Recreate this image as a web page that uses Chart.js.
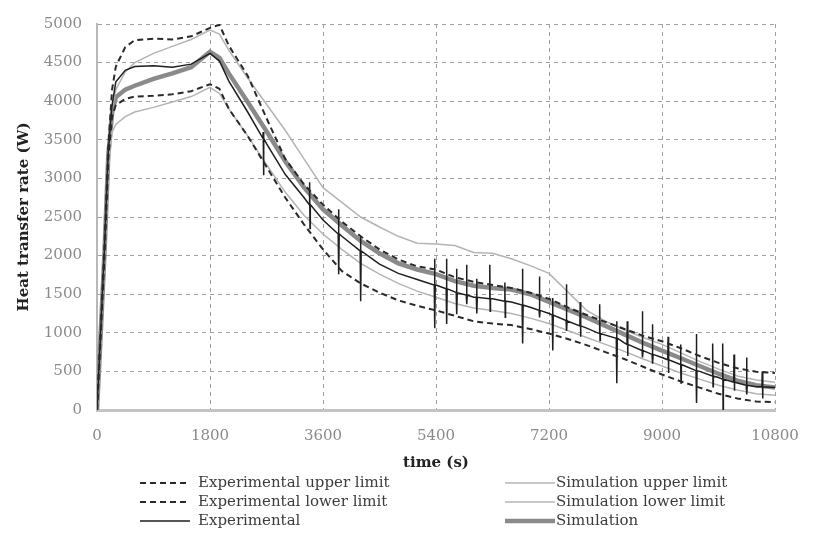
<!DOCTYPE html>
<html>
<head>
<meta charset="utf-8">
<script src="https://cdn.jsdelivr.net/npm/chart.js@4/dist/chart.umd.min.js"></script>
<style>
  html, body { margin: 0; padding: 0; background: #fff; }
</style>
</head>
<body>
<canvas id="heatChart" width="830" height="535"></canvas>
<script>
// time axis (s) shared by all curves
const timeS = [0, 60, 120, 180, 240, 300, 450, 600, 900, 1200, 1500, 1800, 1950,
  2100, 2400, 2700, 3000, 3300, 3600, 3900, 4200, 4500, 4800, 5100, 5400, 5700,
  6000, 6300, 6600, 6900, 7200, 7500, 7800, 8100, 8400, 8700, 9000, 9300, 9600,
  9900, 10200, 10500, 10800];

// heat transfer rate (W)
const expUpper = [0, 1050, 2150, 3400, 4150, 4450, 4700, 4790, 4810, 4800, 4840, 4950, 4990,
  4720, 4330, 3780, 3250, 2920, 2660, 2440, 2250, 2080, 1950, 1860, 1820, 1720,
  1660, 1620, 1580, 1520, 1440, 1330, 1230, 1140, 1050, 960, 890, 800, 700,
  610, 540, 495, 480];
const expLower = [0, 1000, 2000, 3250, 3800, 3950, 4030, 4060, 4070, 4090, 4130, 4220, 4160,
  3900, 3550, 3150, 2750, 2400, 2080, 1800, 1640, 1520, 1420, 1350, 1290, 1220,
  1150, 1120, 1100, 1050, 990, 920, 840, 750, 660, 560, 460, 370, 290,
  210, 150, 110, 100];
const experimental = [0, 1050, 2100, 3350, 3950, 4250, 4400, 4450, 4460, 4440, 4480, 4620, 4520,
  4260, 3860, 3450, 3050, 2750, 2460, 2250, 2060, 1890, 1770, 1690, 1620, 1530,
  1460, 1440, 1400, 1330, 1250, 1150, 1060, 970, 870, 770, 680, 590, 500,
  420, 350, 300, 290];
const simUpper = [0, 1000, 2050, 3250, 3900, 4150, 4380, 4500, 4620, 4710, 4800, 4920, 4870,
  4660, 4300, 3960, 3620, 3250, 2880, 2690, 2500, 2370, 2250, 2160, 2150, 2130,
  2040, 2030, 1960, 1870, 1770, 1530, 1290, 1150, 1040, 940, 850, 740, 630,
  530, 440, 390, 360];
const simLower = [0, 950, 1950, 3150, 3600, 3700, 3800, 3860, 3920, 3990, 4060, 4180, 4100,
  3900, 3550, 3180, 2820, 2520, 2280, 2080, 1900, 1760, 1640, 1540, 1460, 1380,
  1320, 1290, 1250, 1190, 1120, 1030, 940, 850, 760, 660, 570, 480, 400,
  320, 260, 210, 190];
const simulation = [0, 1000, 2050, 3300, 3850, 4050, 4150, 4200, 4290, 4360, 4440, 4640, 4560,
  4360, 3990, 3610, 3220, 2880, 2600, 2390, 2190, 2030, 1900, 1820, 1760, 1670,
  1610, 1580, 1560, 1500, 1400, 1300, 1200, 1090, 980, 870, 770, 670, 570,
  470, 380, 320, 290];

// short measurement spikes in the experimental signal
const spikeTime = [2650, 3390, 3850, 4200, 5380, 5570, 5730, 5890, 6050, 6260, 6500, 6780, 7050,
  7260, 7480, 7700, 8010, 8280, 8450, 8690, 8850, 9100, 9300, 9550, 9810, 9970, 10150, 10350, 10600];
const spikeBase = [3520, 2660, 2280, 2060, 1620, 1570, 1520, 1490, 1460, 1440, 1410, 1360, 1290,
  1230, 1160, 1090, 990, 930, 850, 770, 720, 650, 590, 510, 440, 400, 360, 320, 300];
const spikeHigh = [3600, 2950, 2600, 2250, 1960, 1960, 1830, 1880, 1700, 1880, 1650, 1830, 1730,
  1450, 1630, 1400, 1370, 1150, 1150, 1280, 1110, 950, 850, 985, 860, 860, 720, 680, 500];
const spikeLow = [3040, 2350, 1760, 1410, 1060, 1115, 1240, 1370, 1250, 1280, 1200, 860, 1200,
  770, 1025, 950, 900, 345, 700, 680, 600, 480, 350, 90, 300, 0, 250, 200, 150];

const xTicks = [0, 1800, 3600, 5400, 7200, 9000, 10800];

// legend slots: [column, row]
const legendSlots = [[0, 0], [0, 1], [0, 2], [1, 0], [1, 1], [1, 2]];

const toPoints = (vals) => timeS.map((t, i) => ({x: t, y: vals[i]}));

const withSpikes = (vals) => {
  const pts = toPoints(vals);
  spikeTime.forEach((t, i) => {
    pts.push({x: t - 8, y: spikeBase[i]}, {x: t - 3, y: spikeHigh[i]},
             {x: t + 3, y: spikeLow[i]}, {x: t + 8, y: spikeBase[i]});
  });
  return pts.sort((a, b) => a.x - b.x);
};

// two-column legend under the x axis title
const bottomLegend = {
  id: 'bottomLegend',
  afterDraw(chart) {
    const c = chart.ctx;
    const colLine = [140, 505];
    const colText = [198, 556];
    const rows = [483, 502, 521];
    chart.data.datasets.forEach((ds, i) => {
      const [col, row] = legendSlots[i];
      const y = rows[row];
      c.save();
      c.strokeStyle = ds.borderColor;
      c.lineWidth = ds.borderWidth;
      c.setLineDash(ds.borderDash || []);
      c.beginPath();
      c.moveTo(colLine[col], y);
      c.lineTo(colLine[col] + 50, y);
      c.stroke();
      c.setLineDash([]);
      c.fillStyle = '#3c3c3c';
      c.font = '15px "DejaVu Serif"';
      c.textBaseline = 'middle';
      c.fillText(ds.label, colText[col], y);
      c.restore();
    });
  }
};

const ctx = document.getElementById('heatChart').getContext('2d');

new Chart(ctx, {
  type: 'line',
  data: {
    datasets: [
      {label: 'Experimental upper limit', data: toPoints(expUpper),
       borderColor: '#2a2a2a', borderWidth: 2, borderDash: [6, 4]},
      {label: 'Experimental lower limit', data: toPoints(expLower),
       borderColor: '#2a2a2a', borderWidth: 2, borderDash: [6, 4]},
      {label: 'Experimental', data: withSpikes(experimental),
       borderColor: '#1e1e1e', borderWidth: 1.5},
      {label: 'Simulation upper limit', data: toPoints(simUpper),
       borderColor: '#b4b4b4', borderWidth: 1.5},
      {label: 'Simulation lower limit', data: toPoints(simLower),
       borderColor: '#b4b4b4', borderWidth: 1.5},
      {label: 'Simulation', data: toPoints(simulation),
       borderColor: '#8a8a8a', borderWidth: 4.5}
    ]
  },
  options: {
    responsive: false,
    animation: false,
    devicePixelRatio: 1,
    layout: {padding: {left: 0, right: 55, top: 20, bottom: 61}},
    elements: {point: {radius: 0}, line: {tension: 0, fill: false}},
    plugins: {legend: {display: false}, tooltip: {enabled: false}},
    scales: {
      x: {
        type: 'linear',
        min: 0,
        max: 10800,
        afterBuildTicks: (scale) => { scale.ticks = xTicks.map(v => ({value: v})); },
        afterFit: (scale) => { scale.height = 64; },
        ticks: {padding: 17, color: '#8a8a8a', font: {family: 'DejaVu Serif', size: 15},
                callback: (v) => String(v)},
        grid: {color: '#a0a0a0', lineWidth: 1, drawTicks: false},
        border: {display: true, color: '#c4c4c4', width: 3, dash: [4, 4]},
        title: {display: true, text: 'time (s)', color: '#222',
                font: {family: 'DejaVu Serif', size: 15, weight: 'bold'}, padding: {top: 0, bottom: 2}}
      },
      y: {
        min: 0,
        max: 5000,
        afterFit: (scale) => { scale.width = 97; },
        ticks: {stepSize: 500, padding: 15, color: '#8a8a8a', font: {family: 'DejaVu Serif', size: 15},
                callback: (v) => String(v)},
        grid: {color: '#a0a0a0', lineWidth: 1, drawTicks: false},
        border: {display: true, color: '#b8b8b8', width: 2, dash: [4, 4]},
        title: {display: true, text: 'Heat transfer rate (W)', color: '#222',
                font: {family: 'DejaVu Serif', size: 15, weight: 'bold'}, padding: {top: 15, bottom: 0}}
      }
    }
  },
  plugins: [bottomLegend]
});
</script>
</body>
</html>
